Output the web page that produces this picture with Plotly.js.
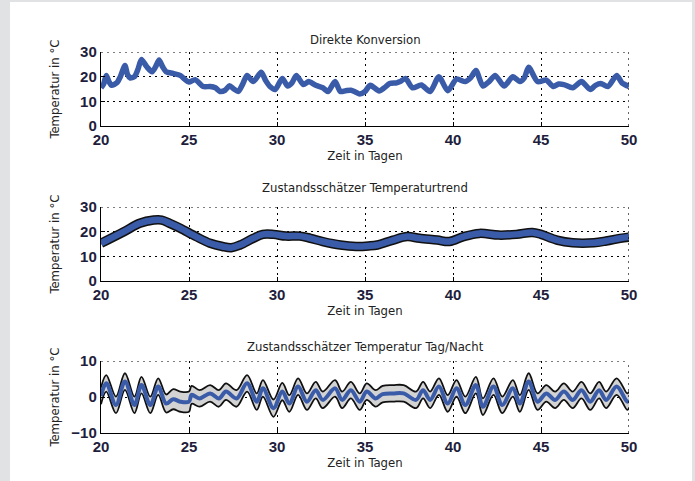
<!DOCTYPE html>
<html>
<head>
<meta charset="utf-8">
<script src="https://cdn.plot.ly/plotly-3.0.1.min.js"></script>
<style>
  html, body { margin: 0; padding: 0; background: #e1e2e4; }
  #panel { position: absolute; left: 10px; top: 2px; width: 682px; height: 479px; background: #ffffff; }
  #chart { position: absolute; left: 0; top: 0; width: 695px; height: 481px; }
</style>
</head>
<body>
<div id="panel"></div>
<div id="chart"></div>
<script>
// ---- Data ----
const panelTitles = ["Direkte Konversion", "Zustandsschätzer Temperaturtrend", "Zustandsschätzer Temperatur Tag/Nacht"];
const xLabel = "Zeit in Tagen";
const yLabel = "Temperatur in °C";
const xTicks = [20, 25, 30, 35, 40, 45, 50];
const yTicksTop = [0, 10, 20, 30];
const yTicksBottom = [-10, 0, 10];

// Panel 1: direct conversion
const days1 = [20, 20.15, 20.3, 20.45, 20.6, 20.9, 21.1, 21.36, 21.5, 21.65, 21.9, 22.1, 22.3, 22.6, 22.9, 23.1, 23.3, 23.5, 23.7, 24.1, 24.5, 24.75, 25, 25.35, 25.8, 26.2, 26.5, 26.76, 27.05, 27.3, 27.55, 27.8, 28.05, 28.3, 28.65, 29.1, 29.35, 29.6, 29.9, 30.3, 30.6, 30.85, 31.1, 31.5, 31.8, 32.2, 32.6, 32.9, 33.3, 33.6, 33.9, 34.2, 34.45, 34.7, 35.0, 35.3, 35.8, 36.1, 36.4, 36.8, 37.0, 37.3, 37.7, 38.2, 38.7, 39.2, 39.7, 40.2, 40.7, 41.0, 41.3, 41.7, 42.05, 42.4, 42.9, 43.4, 43.8, 44.05, 44.3, 44.8, 45.3, 45.7, 46.0, 46.3, 46.8, 47.3, 47.8, 48.1, 48.4, 48.8, 49.3, 49.6, 50];
const temp1 = [15.5, 17, 20.5, 18, 16.5, 17.5, 20, 24.5, 21, 19.5, 20, 23, 27, 24, 22, 24, 26.8, 24, 22, 21.3, 20.5, 19, 17.8, 18.8, 16, 16, 15.5, 14, 14.5, 16.3, 15, 14, 17, 20.5, 18, 21.8, 18.5, 16, 14.8, 19.3, 16.2, 17.5, 20.5, 16.8, 18, 16.5, 15.5, 14, 18, 14, 14.3, 14.5, 13.8, 13, 14, 16.5, 14.2, 15.5, 17.2, 17.5, 18, 19.3, 15.5, 16.6, 14, 20, 14.3, 19, 18, 19.5, 22.5, 16.2, 18, 20.5, 16.2, 20, 18, 19.5, 23.8, 18, 18.6, 16, 17, 16.8, 15.5, 18, 14.8, 16.5, 17.2, 16, 20.5, 17.5, 16];

// Panel 2: state estimator, temperature trend
const days2 = [20, 21.3, 22.2, 23, 23.45, 23.9, 24.5, 25.4, 26.2, 26.9, 27.4, 27.9, 28.65, 29.2, 29.8, 30.5, 31.3, 31.9, 32.6, 33.6, 34.5, 35.2, 35.7, 36.6, 37.4, 38.1, 39.1, 39.8, 40.6, 41.5, 42.6, 43.6, 44.5, 45, 45.9, 46.8, 48, 48.7, 49.5, 50];
const temp2 = [15.3, 20, 23.4, 24.7, 24.7, 23.4, 21.4, 18, 15.3, 14, 13.5, 14.6, 17.3, 18.9, 18.9, 18.2, 18.2, 17.3, 16, 14.6, 14, 14.2, 14.6, 16.6, 18, 17.3, 16.6, 16, 18, 19.3, 18.6, 18.9, 19.7, 18.9, 16.6, 15.5, 15.5, 16.2, 17.3, 17.8];

// Panel 3: state estimator, day/night temperature with uncertainty band
const days3 = [20, 20.3, 20.85, 21.36, 21.9, 22.3, 22.8, 23.25, 23.7, 24.1, 24.5, 25, 25.15, 25.6, 26.2, 26.7, 27.1, 27.7, 28.3, 28.85, 29.2, 29.8, 30.3, 30.7, 31.2, 31.7, 32.2, 32.6, 33.3, 33.7, 34.2, 34.7, 35.1, 35.6, 36.0, 36.6, 37.2, 37.9, 38.3, 38.7, 39.2, 39.7, 40.2, 40.7, 41.3, 41.7, 42.3, 42.8, 43.4, 43.8, 44.3, 44.8, 45.3, 45.8, 46.3, 46.8, 47.3, 47.8, 48.3, 48.7, 49.3, 49.9, 50];
const temp3 = [0.3, 3.8, -2.2, 4.3, -2.2, 3.3, -2.2, 2.9, -1.8, -0.6, -1.3, -1.3, 0.6, -0.4, 1.0, -0.4, 1.5, -0.4, 3.8, -1.3, 2.4, -3.1, 1.5, -1.8, 2.9, -1.3, 1.9, -0.8, 2.4, -0.8, 1.9, -1.3, 1.5, -0.4, 0.8, 1.0, 1.0, -0.8, 1.9, -0.8, 2.9, -1.8, 2.4, -2.2, 3.3, -2.7, 2.9, -2.2, 2.4, -1.8, 4.3, -1.3, 1.0, -0.8, 1.5, -0.8, 1.9, -1.3, 1.9, -0.8, 2.9, -1.3, -0.8];
const band3 = [2.3, 2.3, 2.3, 2.3, 2.3, 2.3, 2.3, 2.3, 2.5, 2.8, 2.8, 2.8, 2.5, 2.3, 2.3, 2.3, 2.3, 2.3, 2.3, 2.3, 2.3, 2.4, 2.4, 2.3, 2.3, 2.3, 2.3, 2.3, 2.3, 2.3, 2.3, 2.3, 2.3, 2.3, 2.3, 2.3, 2.3, 2.3, 2.3, 2.3, 2.3, 2.3, 2.3, 2.3, 2.3, 2.3, 2.3, 2.3, 2.3, 2.3, 2.3, 2.3, 2.3, 2.3, 2.3, 2.3, 2.3, 2.3, 2.3, 2.3, 2.3, 2.3, 2.3];

// ---- Styling ----
const BLUE = '#3a5ba8';
const TEXTFONT = 'DejaVu Sans Condensed, Liberation Sans Narrow, Arial Narrow, sans-serif';
const TICKFONT = {family: 'Liberation Sans, Arial, sans-serif', size: 15, color: '#1e1e3c', weight: 'bold'};
const GRIDDASH = '2px,4px';

const upper3 = temp3.map((v, i) => v + band3[i]);
const lower3 = temp3.map((v, i) => v - band3[i]);

const traces = [
  {x: days1, y: temp1, xaxis: 'x', yaxis: 'y', mode: 'lines', line: {color: BLUE, width: 5.5, shape: 'spline', smoothing: 0.7}, hoverinfo: 'skip'},
  {x: days2, y: temp2, xaxis: 'x2', yaxis: 'y2', mode: 'lines', line: {color: '#111111', width: 9.5, shape: 'spline'}, hoverinfo: 'skip'},
  {x: days2, y: temp2, xaxis: 'x2', yaxis: 'y2', mode: 'lines', line: {color: BLUE, width: 6.5, shape: 'spline'}, hoverinfo: 'skip'},
  {x: days3, y: lower3, xaxis: 'x3', yaxis: 'y3', mode: 'lines', line: {color: '#111111', width: 1.8, shape: 'spline', smoothing: 1}, hoverinfo: 'skip'},
  {x: days3, y: upper3, xaxis: 'x3', yaxis: 'y3', mode: 'lines', fill: 'tonexty', fillcolor: '#d3d3d3', line: {color: '#111111', width: 1.8, shape: 'spline', smoothing: 1}, hoverinfo: 'skip'},
  {x: days3, y: temp3, xaxis: 'x3', yaxis: 'y3', mode: 'lines', line: {color: BLUE, width: 4, shape: 'spline', smoothing: 1}, hoverinfo: 'skip'}
];

const W = 695, H = 481;
const xDom = [101 / W, 629 / W];
const yPix = [[52, 126], [207, 281], [361, 433]];
const yDom = yPix.map(p => [1 - p[1] / H, 1 - p[0] / H]);

function xAxis(anchor) {
  return {
    domain: xDom, anchor: anchor, range: [20, 50], tickvals: xTicks, ticktext: xTicks.map(String),
    ticks: 'inside', ticklen: 4, tickcolor: '#000', showline: true, linecolor: '#000', linewidth: 1.2,
    showgrid: true, gridcolor: '#000', gridwidth: 1, griddash: GRIDDASH, zeroline: false,
    tickfont: TICKFONT, automargin: false,
    title: {text: xLabel, font: {family: TEXTFONT, size: 13, color: '#222'}, standoff: 1}
  };
}
function yAxis(anchor, dom, range, ticks, standoff) {
  return {
    domain: dom, anchor: anchor, range: range, tickvals: ticks, ticktext: ticks.map(v => v < 0 ? '\u2212' + Math.abs(v) : String(v)),
    ticks: 'inside', ticklen: 4, tickcolor: '#000', showline: true, linecolor: '#000', linewidth: 1.2,
    showgrid: true, gridcolor: '#000', gridwidth: 1, griddash: GRIDDASH, zeroline: false,
    tickfont: TICKFONT, automargin: false,
    title: {text: yLabel, font: {family: TEXTFONT, size: 13, color: '#222'}, standoff: standoff}
  };
}

const titleY = [39, 187, 346];
const annotations = panelTitles.map((t, i) => ({
  text: t, xref: 'paper', yref: 'paper', x: (xDom[0] + xDom[1]) / 2, y: 1 - titleY[i] / H,
  xanchor: 'center', yanchor: 'middle', showarrow: false,
  font: {family: TEXTFONT, size: 13, color: '#222'}
}));

// dotted top and right frame edges (MATLAB-style grid box)
const shapes = [];
const suffix = ['', '2', '3'];
const yTop = [30, 30, 10];
suffix.forEach((s, i) => {
  shapes.push({type: 'line', xref: 'x' + s + ' domain', yref: 'y' + s, x0: 0, x1: 1, y0: yTop[i], y1: yTop[i],
    line: {color: '#000', width: 1.2, dash: GRIDDASH}, layer: 'above'});
  shapes.push({type: 'line', xref: 'x' + s, yref: 'y' + s + ' domain', x0: 50, x1: 50, y0: 0, y1: 1,
    line: {color: '#000', width: 1.2, dash: GRIDDASH}, layer: 'above'});
});

const layout = {
  width: W, height: H, margin: {l: 0, r: 0, t: 0, b: 0},
  paper_bgcolor: 'rgba(0,0,0,0)', plot_bgcolor: '#ffffff', showlegend: false,
  xaxis: xAxis('y'), yaxis: yAxis('x', yDom[0], [0, 30], yTicksTop, 17),
  xaxis2: xAxis('y2'), yaxis2: yAxis('x2', yDom[1], [0, 30], yTicksTop, 17),
  xaxis3: xAxis('y3'), yaxis3: yAxis('x3', yDom[2], [-10, 10], yTicksBottom, 8),
  annotations: annotations, shapes: shapes
};

Plotly.newPlot('chart', traces, layout, {displayModeBar: false, staticPlot: true});
</script>
</body>
</html>
